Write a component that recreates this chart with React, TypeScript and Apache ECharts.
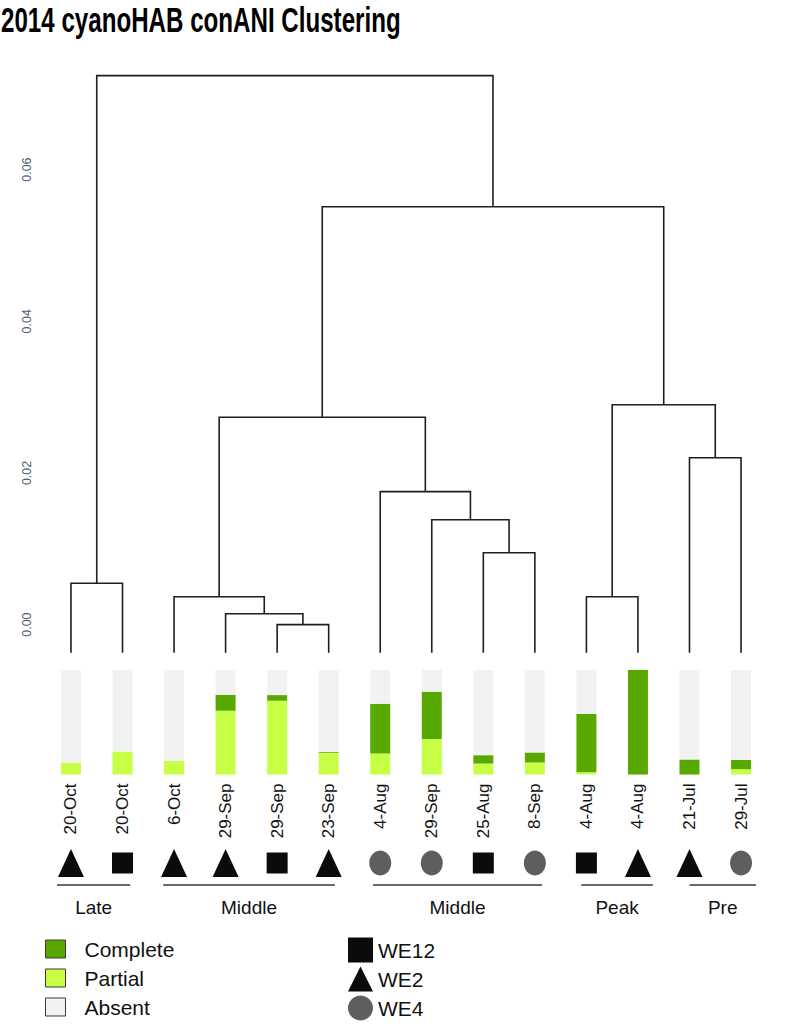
import React, { useEffect, useRef } from 'react';
import * as echarts from 'echarts';

// ---------- data ----------
const TITLE = '2014 cyanoHAB conANI Clustering';

const sampleDates = ['20-Oct', '20-Oct', '6-Oct', '29-Sep', '29-Sep', '23-Sep', '4-Aug', '29-Sep', '25-Aug', '8-Sep', '4-Aug', '4-Aug', '21-Jul', '29-Jul'];
const sampleSites = ['WE2', 'WE12', 'WE2', 'WE2', 'WE12', 'WE2', 'WE4', 'WE4', 'WE12', 'WE4', 'WE12', 'WE2', 'WE2', 'WE4'];

const completeShare = [0, 0, 0, 0.153, 0.054, 0.008, 0.476, 0.454, 0.08, 0.096, 0.556, 1.0, 0.144, 0.089];
const partialShare = [0.11, 0.22, 0.13, 0.61, 0.706, 0.208, 0.201, 0.339, 0.105, 0.115, 0.022, 0, 0, 0.051];
const absentShare = [0.89, 0.78, 0.87, 0.237, 0.24, 0.784, 0.323, 0.207, 0.815, 0.789, 0.422, 0, 0.856, 0.86];

// hclust-style merge table: negative = leaf (-(index+1)), positive = earlier merge (1-based)
const mergeLeft = [-5, -4, -3, -9, -8, -7, 3, -11, -13, 8, 7, -1, 12];
const mergeRight = [-6, 1, 2, -10, 4, 5, 6, -12, -14, 9, 10, -2, 11];
const mergeHeight = [0.0, 0.00144, 0.00368, 0.00948, 0.01383, 0.01753, 0.02734, 0.00368, 0.02201, 0.029, 0.05511, 0.00545, 0.07239];
const leafHeight = -0.0037;

const yTicks = [0, 0.02, 0.04, 0.06];

const groupNames = ['Late', 'Middle', 'Middle', 'Peak', 'Pre'];
const groupStart = [-0.27, 1.79, 5.86, 9.9, 12.0];
const groupEnd = [1.15, 5.12, 9.14, 11.29, 13.29];

const siteNames = ['WE12', 'WE2', 'WE4'];
const shareNames = ['Complete', 'Partial', 'Absent'];

// ---------- styling / layout ----------
const FONT = 'Liberation Sans';
const X_LEFT = 45.2;
const X_WIDTH = 721.6;
const SYMBOL_ROW = 0.2875;
const LINE_ROW = 0.5625;
const LABEL_ROW = 0.8375;

const siteStyle: Record<string, { symbol: string; size: number[]; color: string }> = {
  WE12: { symbol: 'rect', size: [21, 21], color: '#0b0b0b' },
  WE2: { symbol: 'triangle', size: [26, 28], color: '#0b0b0b' },
  WE4: { symbol: 'circle', size: [22, 25], color: '#5e5e5e' },
};

function buildOption() {
  const nodeX: number[] = [];
  const nodeH: number[] = [];
  const childPos = (c: number) => (c < 0 ? [-c - 1, leafHeight] : [nodeX[c - 1], nodeH[c - 1]]);
  const dendroData = mergeHeight.map((h, i) => {
    const [xl, hl] = childPos(mergeLeft[i]);
    const [xr, hr] = childPos(mergeRight[i]);
    nodeX[i] = (xl + xr) / 2;
    nodeH[i] = h;
    return [xl, hl, xr, hr, h];
  });

  const groupData = groupNames.map((_, i) => [groupStart[i], groupEnd[i]]);

  const hiddenValueX = (idx: number) => ({
    type: 'value', gridIndex: idx, min: -0.5, max: 13.5, show: false,
  });

  return {
    animation: false,
    textStyle: { fontFamily: FONT },
    grid: [
      { left: X_LEFT, width: X_WIDTH, top: 17.96, height: 758.3 },
      { left: X_LEFT, width: X_WIDTH, top: 670, height: 104.5 },
      { left: X_LEFT, width: X_WIDTH, top: 840, height: 80 },
    ],
    xAxis: [
      hiddenValueX(0),
      {
        type: 'category', gridIndex: 1, data: sampleDates,
        axisLine: { show: false }, axisTick: { show: false },
        axisLabel: { rotate: 90, margin: 9, fontSize: 17, color: '#111', fontFamily: FONT, interval: 0 },
      },
      hiddenValueX(2),
    ],
    yAxis: [
      {
        type: 'value', gridIndex: 0, min: -0.02, max: 0.08, interval: 0.02,
        axisLine: { show: false }, axisTick: { show: false }, splitLine: { show: false },
        axisLabel: {
          rotate: 90, margin: 12, fontSize: 12.5, color: '#4f5a73', fontFamily: FONT,
          formatter: (v: number) => (yTicks.some((t) => Math.abs(t - v) < 1e-9) ? v.toFixed(2) : ''),
        },
      },
      { type: 'value', gridIndex: 1, min: 0, max: 1, show: false },
      { type: 'value', gridIndex: 2, min: 0, max: 1, inverse: true, show: false },
    ],
    legend: [
      {
        data: shareNames, orient: 'vertical', left: 45, top: 938.5, padding: 0,
        itemWidth: 20, itemHeight: 18, itemGap: 8, icon: 'rect', selectedMode: false,
        itemStyle: { borderColor: '#3a3a3a', borderWidth: 1 },
        textStyle: { fontSize: 21, color: '#111', fontFamily: FONT, padding: [0, 0, 0, 14], lineHeight: 20 },
      },
      {
        data: siteNames, orient: 'vertical', left: 348, top: 937.5, padding: 0,
        itemWidth: 25, itemHeight: 25, itemGap: 4, symbolKeepAspect: false, selectedMode: false,
        itemStyle: { opacity: 1 },
        textStyle: { fontSize: 21, color: '#111', fontFamily: FONT, lineHeight: 20 },
      },
    ],
    graphic: [
      {
        type: 'text', x: 1, y: 2, scaleX: 0.69,
        style: { text: TITLE, fontSize: 35, fontWeight: 'bold', fontFamily: FONT, fill: '#000', align: 'left', verticalAlign: 'top' },
      },
    ],
    series: [
      {
        type: 'custom', name: 'dendrogram', xAxisIndex: 0, yAxisIndex: 0,
        encode: { x: [0, 2], y: [1, 3, 4] },
        data: dendroData,
        renderItem: (params: any, api: any) => {
          const p1 = api.coord([api.value(0), api.value(1)]);
          const p2 = api.coord([api.value(0), api.value(4)]);
          const p3 = api.coord([api.value(2), api.value(4)]);
          const p4 = api.coord([api.value(2), api.value(3)]);
          return {
            type: 'polyline',
            shape: { points: [p1, p2, p3, p4] },
            style: { stroke: '#1f1f1f', lineWidth: 1.6, fill: 'none' },
          };
        },
      },
      {
        type: 'bar', name: 'Partial', stack: 'share', xAxisIndex: 1, yAxisIndex: 1,
        barWidth: 20, data: partialShare, itemStyle: { color: '#c6ff45' },
      },
      {
        type: 'bar', name: 'Complete', stack: 'share', xAxisIndex: 1, yAxisIndex: 1,
        barWidth: 20, data: completeShare, itemStyle: { color: '#58a800' },
      },
      {
        type: 'bar', name: 'Absent', stack: 'share', xAxisIndex: 1, yAxisIndex: 1,
        barWidth: 20, data: absentShare, itemStyle: { color: '#f1f2f2' },
      },
      ...siteNames.map((site) => ({
        type: 'scatter', name: site, xAxisIndex: 2, yAxisIndex: 2,
        symbol: siteStyle[site].symbol, symbolSize: siteStyle[site].size,
        itemStyle: { color: siteStyle[site].color, opacity: 1 },
        data: sampleSites.map((s, i) => (s === site ? [i, SYMBOL_ROW] : null)).filter((d) => d !== null),
      })),
      {
        type: 'custom', name: 'groups', xAxisIndex: 2, yAxisIndex: 2,
        encode: { x: [0, 1] },
        data: groupData,
        renderItem: (params: any, api: any) => {
          const a = api.coord([api.value(0), LINE_ROW]);
          const b = api.coord([api.value(1), LINE_ROW]);
          const t = api.coord([(api.value(0) + api.value(1)) / 2, LABEL_ROW]);
          return {
            type: 'group',
            children: [
              { type: 'line', shape: { x1: a[0], y1: a[1], x2: b[0], y2: b[1] }, style: { stroke: '#3a3a3a', lineWidth: 1.5 } },
              {
                type: 'text',
                style: {
                  text: groupNames[params.dataIndex], x: t[0], y: t[1], align: 'center', verticalAlign: 'middle',
                  fontSize: 19, fontFamily: FONT, fill: '#111',
                },
              },
            ],
          };
        },
      },
    ],
  };
}

export default function App() {
  const ref = useRef<HTMLDivElement>(null);
  useEffect(() => {
    document.body.style.margin = '0';
    document.body.style.overflow = 'hidden';
    const chart = echarts.init(ref.current as HTMLDivElement, undefined, { renderer: 'svg' });
    chart.setOption(buildOption() as any);
    return () => chart.dispose();
  }, []);
  return <div ref={ref} style={{ width: 794, height: 1033 }} />;
}
